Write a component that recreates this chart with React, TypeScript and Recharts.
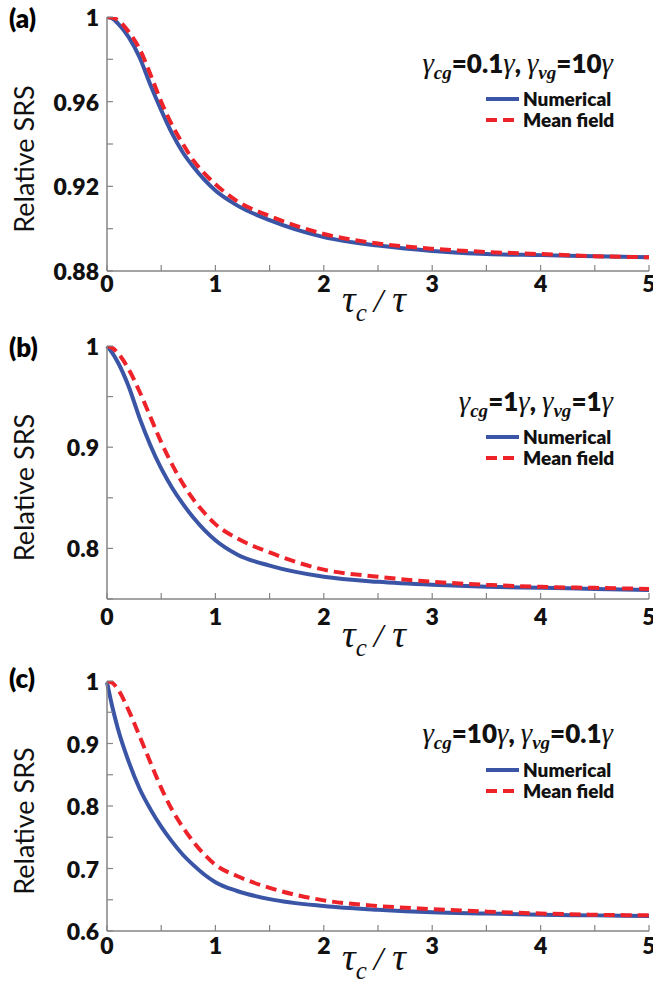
import { LineChart, Line, XAxis, YAxis } from 'recharts';

const TAU = [0, 0.05, 0.1, 0.2, 0.3, 0.4, 0.5, 0.6, 0.7, 0.8, 0.9, 1, 1.2, 1.5, 2, 2.5, 3, 3.5, 4, 4.5, 5];

// (a) γcg = 0.1γ, γvg = 10γ
const NUMERICAL_A = [1, 0.9993, 0.997, 0.9905, 0.981, 0.968, 0.956, 0.945, 0.936, 0.929, 0.923, 0.918, 0.911, 0.904, 0.896, 0.892, 0.8895, 0.888, 0.8875, 0.887, 0.8865];
const MEAN_FIELD_A = [1, 0.9997, 0.9985, 0.993, 0.985, 0.973, 0.96, 0.949, 0.94, 0.932, 0.926, 0.921, 0.913, 0.906, 0.8975, 0.893, 0.8905, 0.889, 0.888, 0.887, 0.8865];

// (b) γcg = 1γ, γvg = 1γ
const NUMERICAL_B = [1, 0.993, 0.984, 0.96, 0.929, 0.902, 0.879, 0.86, 0.844, 0.83, 0.818, 0.808, 0.794, 0.783, 0.772, 0.767, 0.764, 0.762, 0.761, 0.76, 0.759];
const MEAN_FIELD_B = [1, 0.998, 0.993, 0.977, 0.955, 0.93, 0.905, 0.883, 0.864, 0.848, 0.835, 0.824, 0.81, 0.796, 0.779, 0.772, 0.767, 0.764, 0.762, 0.761, 0.76];

// (c) γcg = 10γ, γvg = 0.1γ
const NUMERICAL_C = [0.998, 0.958, 0.924, 0.871, 0.828, 0.795, 0.767, 0.743, 0.722, 0.705, 0.69, 0.678, 0.664, 0.651, 0.64, 0.634, 0.63, 0.628, 0.626, 0.625, 0.624];
const MEAN_FIELD_C = [1, 0.997, 0.987, 0.953, 0.912, 0.87, 0.829, 0.794, 0.766, 0.742, 0.722, 0.706, 0.688, 0.669, 0.649, 0.64, 0.635, 0.631, 0.628, 0.626, 0.625];

const X_TICKS = [0, 0.5, 1, 1.5, 2, 2.5, 3, 3.5, 4, 4.5, 5];
const X_LABELS = [0, 1, 2, 3, 4, 5];

const Y_TICKS_A = [0.88, 0.9, 0.92, 0.94, 0.96, 0.98, 1];
const Y_LABELS_A = [0.88, 0.92, 0.96, 1];
const Y_TICKS_B = [0.75, 0.8, 0.85, 0.9, 0.95, 1];
const Y_LABELS_B = [0.8, 0.9, 1];
const Y_TICKS_C = [0.6, 0.65, 0.7, 0.75, 0.8, 0.85, 0.9, 0.95, 1];
const Y_LABELS_C = [0.6, 0.7, 0.8, 0.9, 1];

const RATES_A = ['0.1', '10'];
const RATES_B = ['1', '1'];
const RATES_C = ['10', '0.1'];

const BLUE = '#3b55a6';
const RED = '#ee232a';
const AXIS = '#858585';
const SANS = 'Lato, "Open Sans", sans-serif';
const SERIF = '"Liberation Serif", "DejaVu Serif", serif';
const TICK_LEN = 6;

const rowsOf = (num: number[], mf: number[]) =>
  TAU.map((t, i) => ({ t, numerical: num[i], meanField: mf[i] }));

const panels = [
  {
    tag: '(a)', top: 0, plotH: 254, rows: rowsOf(NUMERICAL_A, MEAN_FIELD_A),
    domain: [0.88, 1], yTicks: Y_TICKS_A, yLabels: Y_LABELS_A, rates: RATES_A,
    tagY: 18, noteY: 63, legendY: 98, xTickDy: 12, titleDy: 41,
  },
  {
    tag: '(b)', top: 329, plotH: 253, rows: rowsOf(NUMERICAL_B, MEAN_FIELD_B),
    domain: [0.75, 1], yTicks: Y_TICKS_B, yLabels: Y_LABELS_B, rates: RATES_B,
    tagY: 18, noteY: 72, legendY: 107, xTickDy: 17, titleDy: 48,
  },
  {
    tag: '(c)', top: 664, plotH: 250, rows: rowsOf(NUMERICAL_C, MEAN_FIELD_C),
    domain: [0.6, 1], yTicks: Y_TICKS_C, yLabels: Y_LABELS_C, rates: RATES_C,
    tagY: 14, noteY: 69, legendY: 105, xTickDy: 14, titleDy: 39,
  },
];

const PLOT_TOP = 17;
const PLOT_LEFT = 107;
const PLOT_RIGHT = 649;
const WIDTH = 653;
const X_AXIS_H = 70;

const tickText = { fontFamily: SANS, fontWeight: 800, fontSize: 23, fill: '#111' };

function Gamma({ sub }: { sub?: string }) {
  return (
    <span style={{ fontFamily: SERIF, fontStyle: 'italic', fontSize: 29, fontWeight: 400 }}>
      γ
      {sub && (
        <span style={{ fontSize: 19, fontWeight: 700, position: 'relative', top: 6 }}>{sub}</span>
      )}
    </span>
  );
}

function Panel(p: (typeof panels)[number]) {
  const height = PLOT_TOP + p.plotH + X_AXIS_H;
  const bottomTick = (props: any) => {
    const { x, y, payload } = props;
    return (
      <g>
        <line x1={x} x2={x} y1={y} y2={y - TICK_LEN} stroke={AXIS} strokeWidth={1.2} />
        {X_LABELS.includes(payload.value) && (
          <text x={x} y={y + p.xTickDy} textAnchor="middle" dominantBaseline="central" {...tickText}>
            {payload.value}
          </text>
        )}
      </g>
    );
  };
  const topTick = (props: any) => (
    <line x1={props.x} x2={props.x} y1={props.y} y2={props.y + TICK_LEN} stroke={AXIS} strokeWidth={1.2} />
  );
  const leftTick = (props: any) => {
    const { x, y, payload } = props;
    return (
      <g>
        <line x1={x} x2={x + TICK_LEN} y1={y} y2={y} stroke={AXIS} strokeWidth={1.2} />
        {p.yLabels.includes(payload.value) && (
          <text x={x - 8} y={y} textAnchor="end" dominantBaseline="central" {...tickText}>
            {payload.value}
          </text>
        )}
      </g>
    );
  };
  const rightTick = (props: any) => (
    <line x1={props.x} x2={props.x - TICK_LEN} y1={props.y} y2={props.y} stroke={AXIS} strokeWidth={1.2} />
  );
  const labelY = PLOT_TOP + p.plotH / 2 + 15;

  return (
    <div style={{ position: 'absolute', left: 0, top: p.top, width: WIDTH, height }}>
      <LineChart
        width={WIDTH}
        height={height}
        data={p.rows}
        margin={{ top: PLOT_TOP, right: WIDTH - PLOT_RIGHT, bottom: 0, left: 0 }}
      >
        <XAxis
          dataKey="t"
          type="number"
          domain={[0, 5]}
          ticks={X_TICKS}
          interval={0}
          height={X_AXIS_H}
          tickSize={0}
          tickMargin={0}
          tickLine={false}
          tick={bottomTick}
          axisLine={{ stroke: AXIS, strokeWidth: 1.5 }}
          label={{
            content: () => (
              <text x={374} y={PLOT_TOP + p.plotH + p.titleDy} textAnchor="middle" fontFamily={SERIF} fontStyle="italic" fill="#111">
                <tspan fontSize={38}>τ</tspan>
                <tspan fontSize={25} dy={9}>c</tspan>
                <tspan fontSize={34} dy={-9} dx={7}>/</tspan>
                <tspan fontSize={38} dx={9}>τ</tspan>
              </text>
            ),
          }}
        />
        <XAxis
          xAxisId="top"
          orientation="top"
          dataKey="t"
          type="number"
          domain={[0, 5]}
          ticks={X_TICKS}
          interval={0}
          height={0}
          tickSize={0}
          tickMargin={0}
          tickLine={false}
          tick={topTick}
          axisLine={{ stroke: AXIS, strokeWidth: 1.5 }}
        />
        <YAxis
          type="number"
          domain={p.domain}
          ticks={p.yTicks}
          interval={0}
          width={PLOT_LEFT}
          tickSize={0}
          tickMargin={0}
          tickLine={false}
          tick={leftTick}
          allowDataOverflow
          axisLine={{ stroke: AXIS, strokeWidth: 1.5 }}
          label={{
            content: () => (
              <text
                x={23}
                y={labelY}
                transform={`rotate(-90 23 ${labelY})`}
                textAnchor="middle"
                dominantBaseline="central"
                fontFamily={SANS}
                fontSize={27}
                fill="#111"
              >
                Relative SRS
              </text>
            ),
          }}
        />
        <YAxis
          yAxisId="right"
          orientation="right"
          type="number"
          domain={p.domain}
          ticks={p.yTicks}
          interval={0}
          width={0}
          tickSize={0}
          tickMargin={0}
          tickLine={false}
          tick={rightTick}
          allowDataOverflow
          axisLine={{ stroke: AXIS, strokeWidth: 1.5 }}
        />
        <Line
          dataKey="numerical"
          type="monotone"
          stroke={BLUE}
          strokeWidth={4}
          dot={false}
          isAnimationActive={false}
        />
        <Line
          dataKey="meanField"
          type="monotone"
          stroke={RED}
          strokeWidth={4}
          strokeDasharray="11 6"
          dot={false}
          isAnimationActive={false}
        />
      </LineChart>

      <div style={{ position: 'absolute', left: 9, top: p.tagY - 15, fontFamily: SANS, fontWeight: 800, fontSize: 26, lineHeight: '30px' }}>
        {p.tag}
      </div>

      <div
        style={{
          position: 'absolute', right: 40, top: p.noteY - 17, fontFamily: SANS, fontWeight: 800,
          fontSize: 26, lineHeight: '34px', whiteSpace: 'nowrap', color: '#111',
        }}
      >
        <Gamma sub="cg" />={p.rates[0]}<Gamma />, <Gamma sub="vg" />={p.rates[1]}<Gamma />
      </div>

      <div style={{ position: 'absolute', left: 486, top: p.legendY - 10, fontFamily: SANS, fontWeight: 800, fontSize: 19, lineHeight: '21px', color: '#111' }}>
        <div style={{ display: 'flex', alignItems: 'center', height: 21 }}>
          <svg width={34} height={8}><line x1={0} x2={33} y1={4} y2={4} stroke={BLUE} strokeWidth={4} /></svg>
          <span style={{ marginLeft: 3 }}>Numerical</span>
        </div>
        <div style={{ display: 'flex', alignItems: 'center', height: 21 }}>
          <svg width={34} height={8}><line x1={0} x2={28} y1={4} y2={4} stroke={RED} strokeWidth={4} strokeDasharray="11 6" /></svg>
          <span style={{ marginLeft: 3 }}>Mean field</span>
        </div>
      </div>
    </div>
  );
}

export default function App() {
  return (
    <div style={{ position: 'absolute', left: 0, top: 0, width: WIDTH, height: 989, background: '#fff' }}>
      {panels.map((p) => (
        <Panel key={p.tag} {...p} />
      ))}
    </div>
  );
}
